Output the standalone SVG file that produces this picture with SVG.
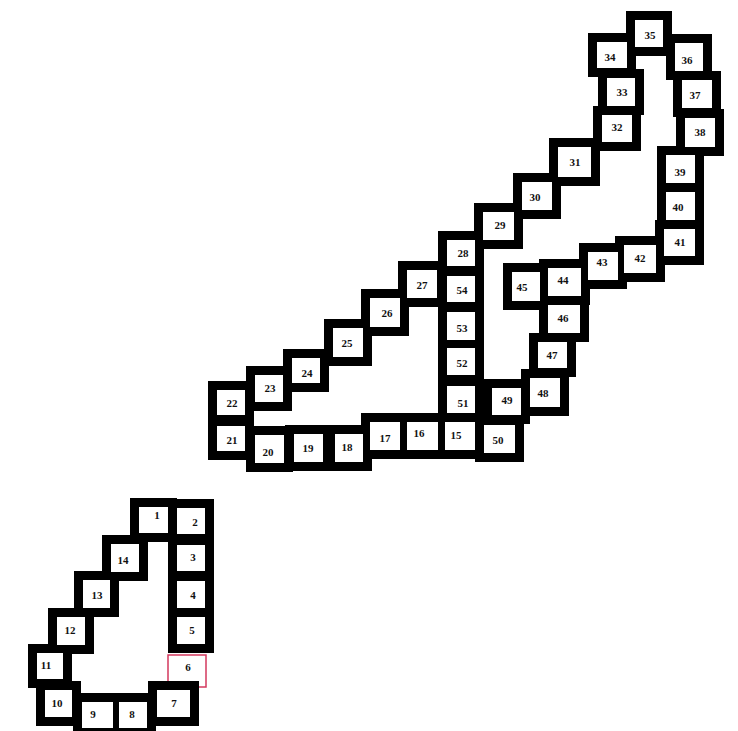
<svg xmlns="http://www.w3.org/2000/svg" width="738" height="731" viewBox="0 0 738 731">
<style>
.f{fill:#000}
.c{fill:#fff}
.t{font-family:"Liberation Serif",serif;font-size:11px;font-weight:bold;fill:#111;text-anchor:middle}
.red{fill:#fff;stroke:#d3385e;stroke-width:1.5}
</style>
<rect width="738" height="731" fill="#fff"/>
<g id="cell-6"><rect class="red" x="168" y="655" width="38" height="32"/><text class="t" x="188" y="671">6</text></g>
<g id="frames">
<rect class="f" x="130" y="498" width="47" height="44"/>
<rect class="f" x="168" y="499" width="46" height="44"/>
<rect class="f" x="168" y="536" width="46" height="44"/>
<rect class="f" x="168" y="572" width="46" height="45"/>
<rect class="f" x="168" y="608" width="46" height="45"/>
<rect class="f" x="148" y="681" width="51" height="45"/>
<rect class="f" x="110" y="693" width="46" height="44"/>
<rect class="f" x="73" y="693" width="49" height="44"/>
<rect class="f" x="36" y="681" width="45" height="45"/>
<rect class="f" x="28" y="644" width="44" height="44"/>
<rect class="f" x="48" y="608" width="46" height="46"/>
<rect class="f" x="74" y="571" width="45" height="46"/>
<rect class="f" x="102" y="535" width="46" height="46"/>
<rect class="f" x="436" y="413" width="48" height="46"/>
<rect class="f" x="398" y="413" width="49" height="46"/>
<rect class="f" x="361" y="413" width="48" height="46"/>
<rect class="f" x="326" y="425" width="46" height="46"/>
<rect class="f" x="285" y="425" width="47" height="46"/>
<rect class="f" x="246" y="426" width="47" height="46"/>
<rect class="f" x="208" y="417" width="46" height="43"/>
<rect class="f" x="208" y="381" width="46" height="43"/>
<rect class="f" x="246" y="366" width="46" height="45"/>
<rect class="f" x="283" y="349" width="46" height="43"/>
<rect class="f" x="324" y="319" width="48" height="47"/>
<rect class="f" x="361" y="289" width="48" height="47"/>
<rect class="f" x="398" y="261" width="48" height="46"/>
<rect class="f" x="438" y="231" width="46" height="44"/>
<rect class="f" x="474" y="203" width="49" height="46"/>
<rect class="f" x="513" y="173" width="48" height="46"/>
<rect class="f" x="549" y="138" width="51" height="48"/>
<rect class="f" x="593" y="106" width="48" height="45"/>
<rect class="f" x="598" y="69" width="46" height="46"/>
<rect class="f" x="588" y="33" width="48" height="44"/>
<rect class="f" x="626" y="11" width="46" height="45"/>
<rect class="f" x="666" y="34" width="46" height="46"/>
<rect class="f" x="673" y="71" width="48" height="46"/>
<rect class="f" x="676" y="109" width="48" height="47"/>
<rect class="f" x="657" y="146" width="47" height="46"/>
<rect class="f" x="657" y="183" width="47" height="46"/>
<rect class="f" x="655" y="220" width="49" height="45"/>
<rect class="f" x="615" y="236" width="50" height="46"/>
<rect class="f" x="579" y="243" width="48" height="46"/>
<rect class="f" x="539" y="259" width="51" height="46"/>
<rect class="f" x="503" y="263" width="46" height="47"/>
<rect class="f" x="539" y="296" width="50" height="46"/>
<rect class="f" x="529" y="333" width="47" height="44"/>
<rect class="f" x="521" y="369" width="48" height="47"/>
<rect class="f" x="483" y="379" width="47" height="45"/>
<rect class="f" x="475" y="416" width="49" height="46"/>
<rect class="f" x="438" y="377" width="46" height="45"/>
<rect class="f" x="438" y="339" width="46" height="45"/>
<rect class="f" x="438" y="303" width="46" height="46"/>
<rect class="f" x="438" y="267" width="46" height="44"/>
</g>
<g id="cell-1"><rect class="c" x="139" y="507" width="29" height="26"/><text class="t" x="157" y="519">1</text></g>
<g id="cell-2"><rect class="c" x="177" y="508" width="28" height="26"/><text class="t" x="195" y="526">2</text></g>
<g id="cell-3"><rect class="c" x="177" y="545" width="28" height="26"/><text class="t" x="193" y="561">3</text></g>
<g id="cell-4"><rect class="c" x="177" y="581" width="28" height="27"/><text class="t" x="193" y="599">4</text></g>
<g id="cell-5"><rect class="c" x="177" y="617" width="28" height="27"/><text class="t" x="192" y="634">5</text></g>
<g id="cell-7"><rect class="c" x="157" y="690" width="33" height="27"/><text class="t" x="174" y="707">7</text></g>
<g id="cell-8"><rect class="c" x="119" y="702" width="28" height="26"/><text class="t" x="132" y="718">8</text></g>
<g id="cell-9"><rect class="c" x="82" y="702" width="31" height="26"/><text class="t" x="93" y="718">9</text></g>
<g id="cell-10"><rect class="c" x="45" y="690" width="27" height="27"/><text class="t" x="57" y="707">10</text></g>
<g id="cell-11"><rect class="c" x="37" y="653" width="26" height="26"/><text class="t" x="46" y="669">11</text></g>
<g id="cell-12"><rect class="c" x="57" y="617" width="28" height="28"/><text class="t" x="70" y="634">12</text></g>
<g id="cell-13"><rect class="c" x="83" y="580" width="27" height="28"/><text class="t" x="97" y="599">13</text></g>
<g id="cell-14"><rect class="c" x="111" y="544" width="28" height="28"/><text class="t" x="123" y="564">14</text></g>
<g id="cell-15"><rect class="c" x="445" y="422" width="30" height="28"/><text class="t" x="456" y="439">15</text></g>
<g id="cell-16"><rect class="c" x="407" y="422" width="31" height="28"/><text class="t" x="419" y="437">16</text></g>
<g id="cell-17"><rect class="c" x="370" y="422" width="30" height="28"/><text class="t" x="385" y="442">17</text></g>
<g id="cell-18"><rect class="c" x="335" y="434" width="28" height="28"/><text class="t" x="347" y="451">18</text></g>
<g id="cell-19"><rect class="c" x="294" y="434" width="29" height="28"/><text class="t" x="308" y="452">19</text></g>
<g id="cell-20"><rect class="c" x="255" y="435" width="29" height="28"/><text class="t" x="268" y="456">20</text></g>
<g id="cell-21"><rect class="c" x="217" y="426" width="28" height="25"/><text class="t" x="232" y="444">21</text></g>
<g id="cell-22"><rect class="c" x="217" y="390" width="28" height="25"/><text class="t" x="232" y="407">22</text></g>
<g id="cell-23"><rect class="c" x="255" y="375" width="28" height="27"/><text class="t" x="270" y="392">23</text></g>
<g id="cell-24"><rect class="c" x="292" y="358" width="28" height="25"/><text class="t" x="307" y="377">24</text></g>
<g id="cell-25"><rect class="c" x="333" y="328" width="30" height="29"/><text class="t" x="347" y="347">25</text></g>
<g id="cell-26"><rect class="c" x="370" y="298" width="30" height="29"/><text class="t" x="387" y="317">26</text></g>
<g id="cell-27"><rect class="c" x="407" y="270" width="30" height="28"/><text class="t" x="422" y="289">27</text></g>
<g id="cell-28"><rect class="c" x="447" y="240" width="28" height="26"/><text class="t" x="463" y="257">28</text></g>
<g id="cell-29"><rect class="c" x="483" y="212" width="31" height="28"/><text class="t" x="500" y="229">29</text></g>
<g id="cell-30"><rect class="c" x="522" y="182" width="30" height="28"/><text class="t" x="535" y="201">30</text></g>
<g id="cell-31"><rect class="c" x="558" y="147" width="33" height="30"/><text class="t" x="575" y="166">31</text></g>
<g id="cell-32"><rect class="c" x="602" y="115" width="30" height="27"/><text class="t" x="617" y="131">32</text></g>
<g id="cell-33"><rect class="c" x="607" y="78" width="28" height="28"/><text class="t" x="622" y="96">33</text></g>
<g id="cell-34"><rect class="c" x="597" y="42" width="30" height="26"/><text class="t" x="610" y="61">34</text></g>
<g id="cell-35"><rect class="c" x="635" y="20" width="28" height="27"/><text class="t" x="650" y="39">35</text></g>
<g id="cell-36"><rect class="c" x="675" y="43" width="28" height="28"/><text class="t" x="687" y="64">36</text></g>
<g id="cell-37"><rect class="c" x="682" y="80" width="30" height="28"/><text class="t" x="695" y="99">37</text></g>
<g id="cell-38"><rect class="c" x="685" y="118" width="30" height="29"/><text class="t" x="700" y="136">38</text></g>
<g id="cell-39"><rect class="c" x="666" y="155" width="29" height="28"/><text class="t" x="680" y="176">39</text></g>
<g id="cell-40"><rect class="c" x="666" y="192" width="29" height="28"/><text class="t" x="678" y="211">40</text></g>
<g id="cell-41"><rect class="c" x="664" y="229" width="31" height="27"/><text class="t" x="680" y="246">41</text></g>
<g id="cell-42"><rect class="c" x="624" y="245" width="32" height="28"/><text class="t" x="640" y="262">42</text></g>
<g id="cell-43"><rect class="c" x="588" y="252" width="30" height="28"/><text class="t" x="602" y="266">43</text></g>
<g id="cell-44"><rect class="c" x="548" y="268" width="33" height="28"/><text class="t" x="563" y="284">44</text></g>
<g id="cell-45"><rect class="c" x="512" y="272" width="28" height="29"/><text class="t" x="522" y="291">45</text></g>
<g id="cell-46"><rect class="c" x="548" y="305" width="32" height="28"/><text class="t" x="563" y="322">46</text></g>
<g id="cell-47"><rect class="c" x="538" y="342" width="29" height="26"/><text class="t" x="552" y="359">47</text></g>
<g id="cell-48"><rect class="c" x="530" y="378" width="30" height="29"/><text class="t" x="543" y="397">48</text></g>
<g id="cell-49"><rect class="c" x="492" y="388" width="29" height="27"/><text class="t" x="507" y="404">49</text></g>
<g id="cell-50"><rect class="c" x="484" y="425" width="31" height="28"/><text class="t" x="498" y="444">50</text></g>
<g id="cell-51"><rect class="c" x="447" y="386" width="28" height="27"/><text class="t" x="463" y="407">51</text></g>
<g id="cell-52"><rect class="c" x="447" y="348" width="28" height="27"/><text class="t" x="462" y="367">52</text></g>
<g id="cell-53"><rect class="c" x="447" y="312" width="28" height="28"/><text class="t" x="462" y="332">53</text></g>
<g id="cell-54"><rect class="c" x="447" y="276" width="28" height="26"/><text class="t" x="462" y="294">54</text></g>
</svg>
